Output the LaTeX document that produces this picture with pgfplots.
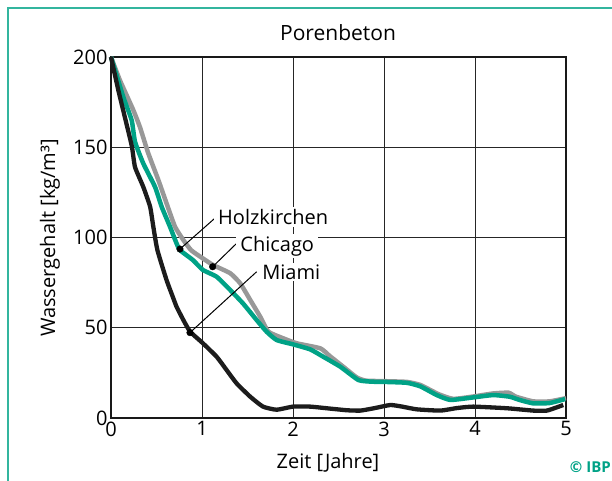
\documentclass[border=0pt]{standalone}
\usepackage{fontspec}
\setmainfont{Open Sans}
\usepackage{pgfplots}
\pgfplotsset{compat=1.18}
\definecolor{ibpgreen}{RGB}{0,162,134}
\definecolor{hkgray}{RGB}{152,152,152}
\definecolor{miablack}{RGB}{28,28,28}
\newcommand{\fs}{\fontsize{20bp}{24bp}\selectfont}
\begin{document}
\begin{tikzpicture}
\useasboundingbox (0,0) rectangle (612bp,481bp);
\draw[ibpgreen!80, line width=1.4bp] (8bp,-5bp) -- (8bp,473bp) -- (620bp,473bp);
\begin{axis}[
  at={(111bp,63bp)}, anchor=south west,
  width=455bp, height=361bp, scale only axis,
  xmin=0, xmax=5, ymin=0, ymax=200,
  xtick={0,1,2,3,4,5}, ytick={0,50,100,150,200},
  major tick length=0pt,
  grid=major,
  major grid style={line width=0.9bp, black!85},
  axis line style={line width=2.4bp, black!90},
  tick label style={font=\fs},
  /pgf/number format/assume math mode=true,
  clip=false,
]
\addplot[hkgray, line width=4.5bp, line join=round, smooth, tension=0.3] coordinates {
(0,200)(0.099,187)(0.245,170.6)(0.319,161)(0.41,146.6)(0.52,131.9)(0.61,119)(0.703,106)(0.795,98.6)(0.88,93)(0.98,89.4)(1.12,84.8)(1.31,80.2)(1.42,74.6)(1.53,65.4)(1.64,56.1)(1.73,47.8)(1.89,44.2)(2.04,41.4)(2.30,38.6)(2.4,34.5)(2.55,28.5)(2.7,22.5)(2.8,20.7)(3.0,20.4)(3.25,20)(3.4,18.3)(3.6,13.2)(3.76,10.6)(3.98,11.9)(4.2,13.6)(4.37,14)(4.45,11.8)(4.64,9.2)(4.82,9.2)(5,11)
};
\addplot[ibpgreen, line width=4.5bp, line join=round, smooth, tension=0.3] coordinates {
(0,200)(0.134,178)(0.227,165)(0.264,153)(0.355,141)(0.484,128)(0.557,117)(0.648,106)(0.72,96.8)(0.758,93)(0.90,87.5)(1.01,82)(1.16,78.3)(1.31,70.9)(1.45,63.5)(1.60,54.3)(1.71,47.8)(1.82,43.2)(2.0,40.8)(2.19,38)(2.33,34)(2.52,28.4)(2.72,21)(2.88,20.1)(3.0,20)(3.25,19.5)(3.4,17.5)(3.58,12.7)(3.73,10)(3.98,11.4)(4.2,12.7)(4.38,11.8)(4.49,10)(4.64,8.1)(4.82,8.3)(4.99,10.5)
};
\addplot[miablack, line width=4.3bp, line join=round, smooth, tension=0.3] coordinates {
(0,200)(0.08,181.7)(0.17,163)(0.23,150.3)(0.264,139)(0.355,128)(0.43,117)(0.465,106)(0.51,93)(0.61,76.5)(0.68,67)(0.72,61.7)(0.795,54.3)(0.87,47.8)(1.01,41.4)(1.16,34)(1.27,26.6)(1.38,19.2)(1.53,11.8)(1.67,6.3)(1.82,4.6)(2.0,6.3)(2.19,6.3)(2.37,5.4)(2.59,4.3)(2.74,4.1)(2.9,5.5)(3.07,7.2)(3.2,6.3)(3.36,4.8)(3.62,4.1)(3.8,5.5)(3.98,6.3)(4.35,5.4)(4.64,4.1)(4.79,4.1)(4.97,7.2)
};
% leader lines
\addplot[black, line width=1bp] coordinates {(0.758,93.6)(1.16,111.5)};
\addplot[black, line width=1bp] coordinates {(1.117,83.8)(1.40,97.7)};
\addplot[black, line width=1bp] coordinates {(0.868,47.3)(1.60,81)};
\addplot[only marks, mark=*, mark size=3.3bp, black] coordinates {(0.758,93.6)(1.117,83.8)(0.868,47.3)};
\node[anchor=west, font=\fs, fill=white, inner xsep=4bp, inner ysep=2bp, xshift=-4bp] at (axis cs:1.176,111.4) {Holzkirchen};
\node[anchor=west, font=\fs, fill=white, inner xsep=4bp, inner ysep=2bp, xshift=-4bp] at (axis cs:1.42,95.3) {Chicago};
\node[anchor=west, font=\fs, fill=white, inner xsep=4bp, inner ysep=2bp, xshift=-4bp] at (axis cs:1.66,80.9) {Miami};
\end{axis}
\node[font=\fontsize{21bp}{25bp}\selectfont] at (338bp,448bp) {Porenbeton};
\node[font=\fs] at (328bp,18bp) {Zeit [Jahre]};
\node[font=\fs, rotate=90] at (50bp,243bp) {Wassergehalt [kg/m³]};
\node[anchor=east, font=\fontsize{15bp}{18bp}\selectfont\bfseries, text=ibpgreen, inner sep=0pt] at (611bp,14bp) {© IBP};
\end{tikzpicture}
\end{document}
